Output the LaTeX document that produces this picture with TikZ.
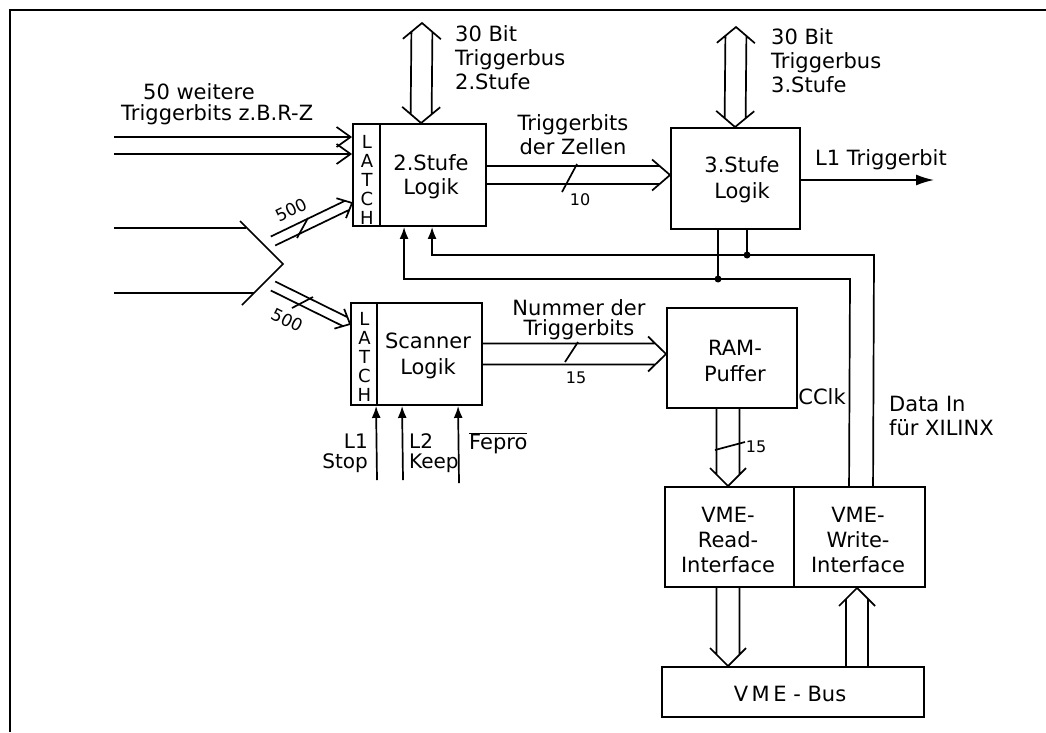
\documentclass[tikz,border=0pt]{standalone}
\usepackage{fontspec}
\setmainfont{DejaVu Sans}
\usetikzlibrary{arrows.meta,calc}
% bus arrow: tail, tip, half width, wing half width, wing length, line end distance
\newcommand{\busarrow}[6]{%
  \path ($(#2)!#6!(#1)$) coordinate (bE) ($(#2)!#5!(#1)$) coordinate (bW);
  \draw[wire] ($(#1)!#3!90:(#2)$) -- ($(bE)!#3!90:(#2)$)
    ($(#1)!#3!-90:(#2)$) -- ($(bE)!#3!-90:(#2)$)
    ($(bW)!#4!90:(#2)$) -- (#2) -- ($(bW)!#4!-90:(#2)$);}
\newcommand{\dbusarrow}[6]{%
  \path ($(#2)!#6!(#1)$) coordinate (bE) ($(#2)!#5!(#1)$) coordinate (bW)
        ($(#1)!#6!(#2)$) coordinate (bF) ($(#1)!#5!(#2)$) coordinate (bV);
  \draw[wire] ($(bF)!#3!90:(#2)$) -- ($(bE)!#3!90:(#2)$)
    ($(bF)!#3!-90:(#2)$) -- ($(bE)!#3!-90:(#2)$)
    ($(bW)!#4!90:(#2)$) -- (#2) -- ($(bW)!#4!-90:(#2)$)
    ($(bV)!#4!90:(#2)$) -- (#1) -- ($(bV)!#4!-90:(#2)$);}
\begin{document}
\begin{tikzpicture}[x=1pt,y=-1pt,
  wire/.style={line width=1.7pt},
  frameline/.style={line width=2.4pt},
  box/.style={draw,line width=1.9pt,inner sep=0pt},
  lbl/.style={font=\fontsize{21}{24}\selectfont,inner sep=0pt,align=center},
  tiny/.style={font=\fontsize{16}{18}\selectfont,inner sep=0pt},
  latchtxt/.style={font=\fontsize{18}{19}\selectfont,align=center,inner sep=0pt},
  barb/.style={-{Straight Barb[length=14pt,width=20pt]}},
  farrow/.style={-{Latex[length=12pt,width=9pt]}},
  dot/.style={circle,fill,inner sep=0pt,minimum size=7pt}]
\useasboundingbox (0,0) rectangle (1046,732);
\draw[frameline] (10,732) -- (10,10) -- (1046,10);

% boxes
\node[box,minimum width=133pt,minimum height=102pt] (s2) at (419.5,175) {};
\node[box,minimum width=129pt,minimum height=101pt] (s3) at (735.5,178.5) {};
\node[box,minimum width=131pt,minimum height=102pt] (sc) at (416.5,354) {};
\node[box,minimum width=130pt,minimum height=100pt] (ram) at (732,358) {};
\node[box,minimum width=129pt,minimum height=100pt] (vmer) at (729.5,537) {};
\node[box,minimum width=131pt,minimum height=100pt] (vmew) at (859.5,537) {};
\node[box,minimum width=262pt,minimum height=50pt] (vmebus) at (793,692) {};

% latch dividers
\draw[line width=1.9pt] ($(s2.north west)+(28,0)$) -- ($(s2.south west)+(28,0)$);
\draw[line width=1.9pt] ($(sc.north west)+(27,0)$) -- ($(sc.south west)+(27,0)$);
\node[latchtxt] (l2) at (367,180) {L\\A\\T\\C\\H};
\node[latchtxt] (l3) at (364.5,357) {L\\A\\T\\C\\H};

% box texts
\node[lbl] (s2t) at (431,177) {2.Stufe\\Logik};
\node[lbl,font=\fontsize{21}{26}\selectfont] (s3t) at (742,180) {3.Stufe\\Logik};
\node[lbl,font=\fontsize{21}{26}\selectfont] (sct) at (428,356) {Scanner\\Logik};
\node[lbl,font=\fontsize{21}{26}\selectfont] (ramt) at (735,361) {RAM-\\Puffer};
\node[lbl,font=\fontsize{21}{25}\selectfont] (vmert) at (728,540) {VME-\\Read-\\Interface};
\node[lbl,font=\fontsize{21}{25}\selectfont] (vmewt) at (858,540) {VME-\\Write-\\Interface};
\node[lbl] (vmebust) at (790,694) {V\,M\,E - Bus};

% top buses
\coordinate (t2top) at (422,23);
\coordinate (t2bot) at ($(s2.north west)+(69,0)$);
\dbusarrow{t2top}{t2bot}{10.5pt}{19pt}{16pt}{8.8pt}
\coordinate (t3top) at (736,27);
\coordinate (t3bot) at ($(s3.north west)+(65,0)$);
\dbusarrow{t3top}{t3bot}{10.5pt}{19pt}{16pt}{8.8pt}
\node[lbl,anchor=west,align=left] (t2l) at (455,58) {30 Bit\\Triggerbus\\2.Stufe};
\node[lbl,anchor=west,align=left] (t3l) at (771,61) {30 Bit\\Triggerbus\\3.Stufe};

% 2.Stufe -> 3.Stufe
\coordinate (a23) at (s2.east);
\coordinate (b23) at (s3.west |- s2.east);
\busarrow{a23}{b23}{9pt}{15.5pt}{18pt}{10.5pt}
\draw[wire] (562,192) -- (577,164);
\node[tiny] (n10) at (580,200) {10};
\node[lbl] (tz) at (573,135) {Triggerbits\\der Zellen};

% Scanner -> RAM
\coordinate (asr) at (sc.east);
\coordinate (bsr) at (ram.west |- sc.east);
\busarrow{asr}{bsr}{10.5pt}{17.5pt}{18pt}{10.8pt}
\draw[wire] (565,362) -- (578,342);
\node[tiny] (n15a) at (576,378) {15};
\node[lbl,font=\fontsize{21}{20}\selectfont] (nt) at (579,320) {Nummer der\\Triggerbits};

% RAM -> VME-Read
\coordinate (rv1) at ($(ram.south west)+(62,0)$);
\coordinate (rv2) at (rv1 |- vmer.north);
\busarrow{rv1}{rv2}{11.5pt}{18pt}{18pt}{11.5pt}
\draw[wire] (715,450) -- (745,442);
\node[tiny] (n15b) at (756,447) {15};

% VME-Read -> VME-Bus, VME-Bus -> VME-Write
\coordinate (vb1) at (rv1 |- vmer.south);
\coordinate (vb2) at (rv1 |- vmebus.north);
\busarrow{vb1}{vb2}{11.5pt}{18pt}{18pt}{11.5pt}
\coordinate (wb1) at ($(vmebus.north west)+(196,0)$);
\coordinate (wb2) at (wb1 |- vmew.south);
\busarrow{wb1}{wb2}{11pt}{18pt}{18pt}{11pt}

% L1 Triggerbit output
\coordinate (l1out) at (934,180);
\draw[wire,-{Latex[length=18pt,width=11pt]}] (s3.east |- l1out) -- (l1out);
\node[lbl] (l1t) at (881,160) {L1 Triggerbit};

% inputs left
\coordinate (i1) at (114,137);
\coordinate (i2) at (114,154);
\draw[wire,barb] (i1) -- (i1 -| s2.west);
\draw[wire,barb] (i2) -- (i2 -| s2.west);
\node[lbl,anchor=west] (in50) at (143,92) {50 weitere};
\node[lbl,anchor=west] (intb) at (121,115) {Triggerbits z.B.R-Z};

% wedge (distributor)
\coordinate (w1) at (240,221);
\coordinate (w2) at (283,264);
\coordinate (w3) at (242,305);
\draw[wire] (w1) -- (w2) -- (w3);
\coordinate (h1) at (114,228);
\coordinate (h2) at (114,293);
\draw[wire] (h1) -- (246,228);
\draw[wire] (h2) -- (254,293);

% 500 buses
\coordinate (u0) at (273,241);
\coordinate (u1) at ($(s2.south west)+(0,-24)$);
\busarrow{u0}{u1}{5pt}{11pt}{12pt}{5.5pt}
\draw[wire] (297,238) -- (308,218);
\node[tiny,font=\fontsize{17}{20}\selectfont,rotate=26] (n500a) at (291,210) {500};
\coordinate (d0) at (273,286);
\coordinate (d1) at ($(sc.north west)+(0,22)$);
\busarrow{d0}{d1}{5pt}{11pt}{12pt}{5.5pt}
\draw[wire] (292,308) -- (313,297);
\node[tiny,font=\fontsize{17}{20}\selectfont,rotate=-27] (n500b) at (287,320) {500};

% feedback lines
\coordinate (f1a) at ($(vmew.north west)+(80,0)$);
\coordinate (f1b) at (874,255);
\coordinate (f1c) at ($(s2.south west)+(80,0)$);
\draw[wire,farrow] (f1a) -- (f1b) -- (f1b -| f1c) -- (f1c);
\coordinate (f2a) at ($(vmew.north west)+(56,0)$);
\coordinate (f2b) at (850,279);
\coordinate (f2c) at ($(s2.south west)+(52,0)$);
\draw[wire,farrow] (f2a) -- (f2b) -- (f2b -| f2c) -- (f2c);
\coordinate (g1) at ($(s3.south west)+(77,0)$);
\coordinate (g2) at ($(s3.south west)+(48,0)$);
\draw[wire] (g1) -- (g1 |- f1b);
\draw[wire] (g2) -- (g2 |- f2b);
\node[dot] (dt1) at (g1 |- f1b) {};
\node[dot] (dt2) at (g2 |- f2b) {};
\node[lbl] (cclk) at (822,397) {CClk};
\node[lbl,anchor=west,align=left] (dxl) at (889,416) {Data In\\für XILINX};

% Scanner control inputs
\coordinate (k1) at ($(sc.south west)+(26,0)$);
\coordinate (k2) at ($(sc.south west)+(52,0)$);
\coordinate (k3) at ($(sc.south west)+(108,0)$);
\coordinate (k1s) at (377,480);
\coordinate (k2s) at (403,480);
\coordinate (k3s) at (459,483);
\draw[wire,farrow] (k1s) -- (k1);
\draw[wire,farrow] (k2s) -- (k2);
\draw[wire,farrow] (k3s) -- (k3);
\node[lbl,anchor=east,align=right,font=\fontsize{20}{20}\selectfont] (stop) at (368,453) {L1\\Stop};
\node[lbl,anchor=west,align=left,font=\fontsize{20}{20}\selectfont] (keep) at (409,453) {L2\\Keep};
\node[lbl,anchor=west] (fepro) at (469,443) {$\overline{\mbox{Fepro}}$};
\end{tikzpicture}
\end{document}
